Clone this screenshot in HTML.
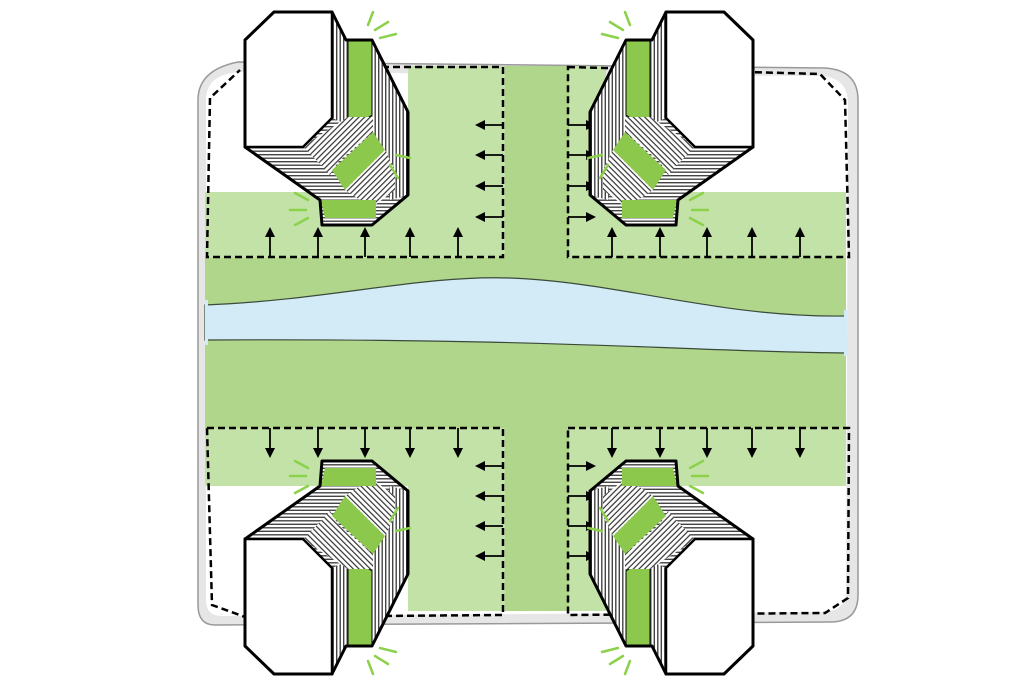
<!DOCTYPE html>
<html><head><meta charset="utf-8"><style>html,body{margin:0;padding:0;background:#fff}svg{display:block}</style></head>
<body>
<svg width="1024" height="683" viewBox="0 0 1024 683" xmlns="http://www.w3.org/2000/svg">
<defs>
<pattern id="hv" width="3.5" height="4" patternUnits="userSpaceOnUse"><rect width="4" height="4" fill="#fff"/><rect width="1.4" height="4" fill="#444"/></pattern>
<pattern id="hh" width="4" height="3.5" patternUnits="userSpaceOnUse"><rect width="4" height="4" fill="#fff"/><rect width="4" height="1.4" fill="#444"/></pattern>
<pattern id="hd" width="4" height="4" patternUnits="userSpaceOnUse" patternTransform="rotate(45)"><rect width="4" height="4" fill="#fff"/><rect width="1.2" height="4" fill="#333"/></pattern>
<marker id="ar" markerWidth="10" markerHeight="10" refX="7" refY="5" orient="auto" markerUnits="userSpaceOnUse"><path d="M0,0 L10,5 L0,10 Z" fill="#000"/></marker>
<g id="bld">
<polygon points="245,40 274,12 332,12 346,40 372,40 408,112 408,195 372,225 322,225 320,200 245,147" fill="url(#hh)"/>
<polygon points="332,12 346,40 348,40 348,125 332,118" fill="url(#hv)"/>
<polygon points="372,40 408,112 408,195 390,200 372,135" fill="url(#hv)"/>
<polygon points="348,40 372,40 372,115 348,132" fill="#8cc84b" stroke="#000" stroke-width="1"/>
<polygon points="303,146 348,117 373,117 373,132 338,162 330,175" fill="url(#hd)"/>
<polygon points="332,170 373,132 385,150 345,190" fill="#8cc84b"/>
<polygon points="345,190 385,150 395,170 395,190 375,205 360,200" fill="url(#hd)"/>
<polygon points="321,200 376,200 376,218 325,218" fill="#8cc84b"/>
<polygon points="245,40 274,12 332,12 332,118 303,147 245,147" fill="#fff" stroke="#000" stroke-width="2.5"/>
<polygon points="245,40 274,12 332,12 346,40 372,40 408,112 408,195 372,225 322,225 320,200 245,147" fill="none" stroke="#000" stroke-width="3" stroke-linejoin="round"/>
<g stroke="#8cd14a" stroke-width="2.5" stroke-linecap="round">
<line x1="368" y1="25" x2="373" y2="12"/><line x1="375" y1="30" x2="388" y2="22"/><line x1="380" y1="38" x2="396" y2="34"/>
<line x1="308" y1="200" x2="295" y2="193"/><line x1="306" y1="210" x2="290" y2="210"/><line x1="308" y1="218" x2="295" y2="225"/>
<line x1="396" y1="155" x2="410" y2="158"/><line x1="390" y1="165" x2="398" y2="178"/>
</g>
</g>
</defs>
<path d="M238,62 L825,68 Q858,70 858,100 L858,595 Q858,622 830,622 L215,625 Q198,625 198,605 L198,100 Q198,70 238,62 Z" fill="#e6e6e6" stroke="#999" stroke-width="1.5"/>
<path d="M240,72 L822,76 Q848,78 848,104 L846,590 Q846,612 822,612 L222,616 Q206,616 206,600 L206,100 Q206,74 240,72 Z" fill="#fff"/>
<rect x="205" y="192" width="641" height="294" fill="#c3e2a8"/>
<rect x="408" y="66" width="198" height="545" fill="#c3e2a8"/>
<rect x="505" y="66" width="64" height="545" fill="#afd68a"/>
<rect x="205" y="258" width="641" height="170" fill="#afd68a"/>
<path d="M205,305 C330,300 420,275 510,278 C620,282 720,318 846,316 L846,353 C700,352 560,338 205,340 Z" fill="#d2ebf6" stroke="#3a4a3a" stroke-width="1.2"/>
<rect x="205" y="300" width="3" height="45" fill="#d2ebf6"/>
<rect x="844" y="310" width="3" height="46" fill="#d2ebf6"/>
<g fill="none" stroke="#000" stroke-width="2.5" stroke-dasharray="7,4">
<path d="M250,67 L503,67 L503,257 L207,257 L210,98 L240,70"/>
<path d="M568,67 L820,74 L845,100 L849,257 L568,257 Z"/>
<path d="M207,428 L503,428 L503,615 L245,617 L212,605 Z"/>
<path d="M568,428 L849,428 L848,598 L825,613 L568,615 Z"/>
</g>
<g stroke="#000" stroke-width="1.8" marker-end="url(#ar)">
<line x1="270" y1="257" x2="270" y2="230"/><line x1="318" y1="257" x2="318" y2="230"/><line x1="365" y1="257" x2="365" y2="230"/><line x1="410" y1="257" x2="410" y2="230"/><line x1="458" y1="257" x2="458" y2="230"/>
<line x1="612" y1="257" x2="612" y2="230"/><line x1="660" y1="257" x2="660" y2="230"/><line x1="707" y1="257" x2="707" y2="230"/><line x1="752" y1="257" x2="752" y2="230"/><line x1="800" y1="257" x2="800" y2="230"/>
<line x1="503" y1="125" x2="478" y2="125"/><line x1="503" y1="155" x2="478" y2="155"/><line x1="503" y1="186" x2="478" y2="186"/><line x1="503" y1="217" x2="478" y2="217"/>
<line x1="568" y1="125" x2="593" y2="125"/><line x1="568" y1="155" x2="593" y2="155"/><line x1="568" y1="186" x2="593" y2="186"/><line x1="568" y1="217" x2="593" y2="217"/>
<line x1="270" y1="428" x2="270" y2="455"/><line x1="318" y1="428" x2="318" y2="455"/><line x1="365" y1="428" x2="365" y2="455"/><line x1="410" y1="428" x2="410" y2="455"/><line x1="458" y1="428" x2="458" y2="455"/>
<line x1="612" y1="428" x2="612" y2="455"/><line x1="660" y1="428" x2="660" y2="455"/><line x1="707" y1="428" x2="707" y2="455"/><line x1="752" y1="428" x2="752" y2="455"/><line x1="800" y1="428" x2="800" y2="455"/>
<line x1="503" y1="466" x2="478" y2="466"/><line x1="503" y1="496" x2="478" y2="496"/><line x1="503" y1="526" x2="478" y2="526"/><line x1="503" y1="556" x2="478" y2="556"/>
<line x1="568" y1="466" x2="593" y2="466"/><line x1="568" y1="496" x2="593" y2="496"/><line x1="568" y1="526" x2="593" y2="526"/><line x1="568" y1="556" x2="593" y2="556"/>
</g>
<use href="#bld"/>
<use href="#bld" transform="translate(998,0) scale(-1,1)"/>
<use href="#bld" transform="translate(0,686) scale(1,-1)"/>
<use href="#bld" transform="translate(998,686) scale(-1,-1)"/>
</svg>
</body></html>
